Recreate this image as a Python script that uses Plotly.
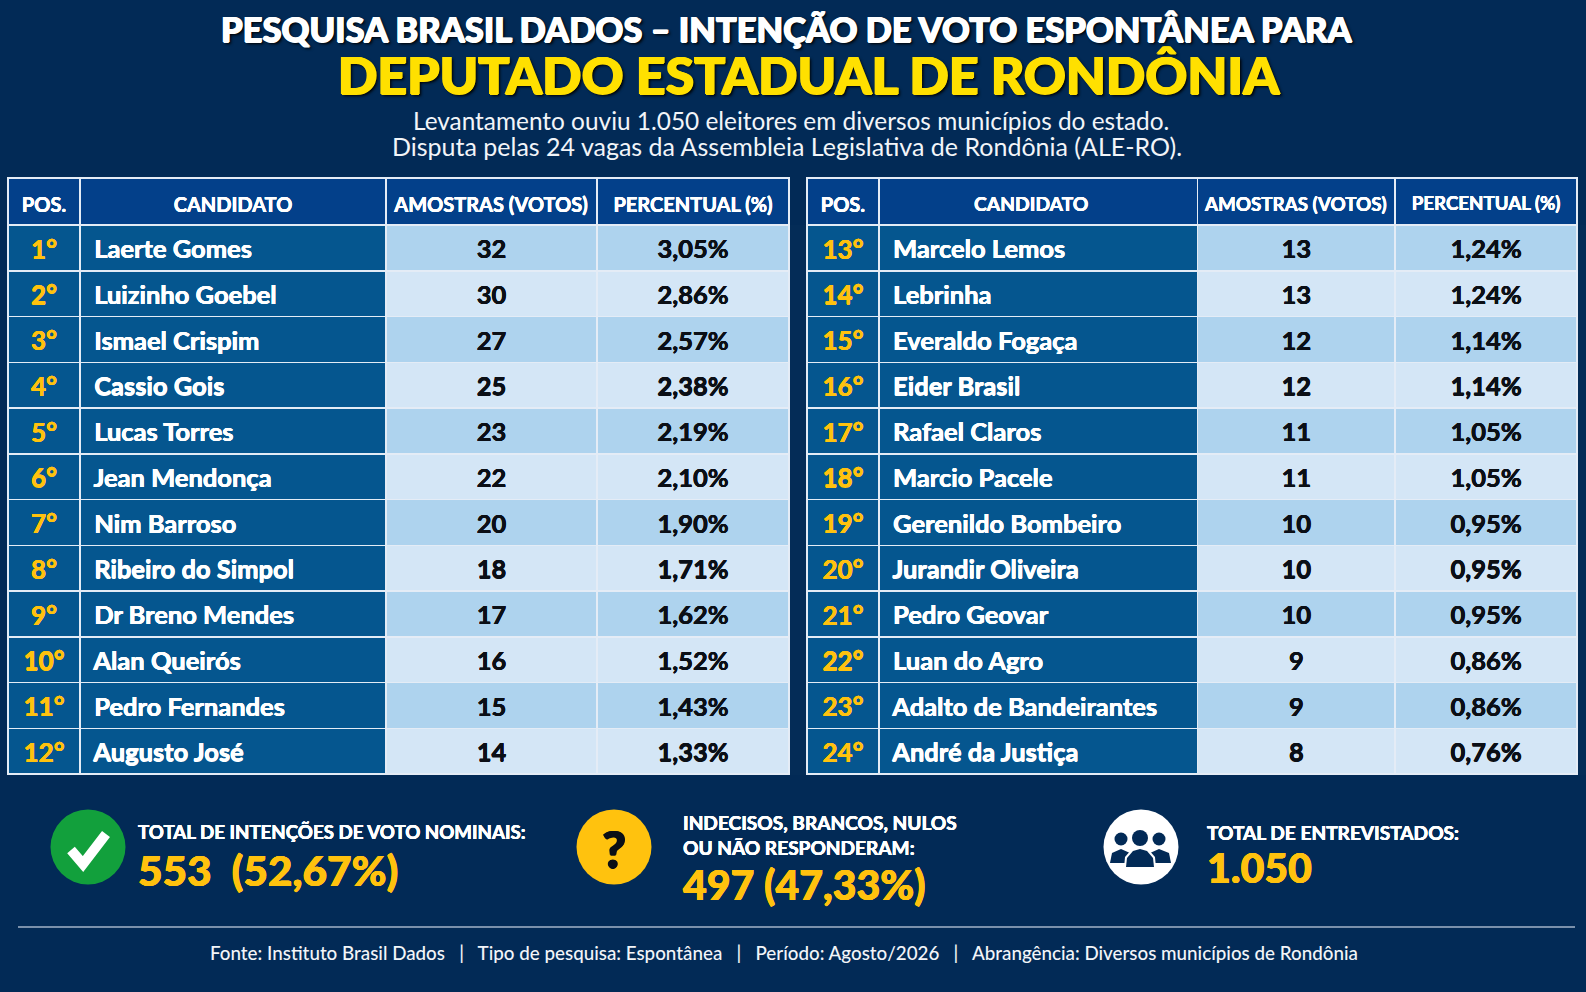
import plotly.graph_objects as go

W, H = 1586, 992

header_left = ["POS.", "CANDIDATO", "AMOSTRAS (VOTOS)", "PERCENTUAL (%)"]
header_right = ["POS.", "CANDIDATO\u00a0\u00a0\u00a0", "AMOSTRAS (VOTOS)", "PERCENTUAL (%)"]

pos_left = ["1°", "2°", "3°", "4°", "5°", "6°", "7°", "8°", "9°", "10°", "11°", "12°"]
names_left = ["Laerte Gomes", "Luizinho Goebel", "Ismael Crispim", "Cassio Gois", "Lucas Torres", "Jean Mendonça",
              "Nim Barroso", "Ribeiro do Simpol", "Dr Breno Mendes", "Alan Queirós", "Pedro Fernandes", "Augusto José"]
votes_left = [32, 30, 27, 25, 23, 22, 20, 18, 17, 16, 15, 14]
pct_left = ["3,05%", "2,86%", "2,57%", "2,38%", "2,19%", "2,10%", "1,90%", "1,71%", "1,62%", "1,52%", "1,43%", "1,33%"]

pos_right = ["13°", "14°", "15°", "16°", "17°", "18°", "19°", "20°", "21°", "22°", "23°", "24°"]
names_right = ["Marcelo Lemos", "Lebrinha", "Everaldo Fogaça", "Eider Brasil", "Rafael Claros", "Marcio Pacele",
               "Gerenildo Bombeiro", "Jurandir Oliveira", "Pedro Geovar", "Luan do Agro", "Adalto de Bandeirantes", "André da Justiça"]
votes_right = [13, 13, 12, 12, 11, 11, 10, 10, 10, 9, 9, 8]
pct_right = ["1,24%", "1,24%", "1,14%", "1,14%", "1,05%", "1,05%", "0,95%", "0,95%", "0,95%", "0,86%", "0,86%", "0,76%"]

NAVY = "#022a56"
HEAD = "#03408a"
DARK = "#05568f"
LIGHT1 = "#aed3ee"
LIGHT2 = "#d4e6f6"
YELLOW = "#ffc20e"
INK = "#0b0f16"
FONT = "Lato"


def fx(x):
    return x / W


def fy(y):
    return 1 - y / H


def heavy(color, w=0.5, extra=""):
    # fake a heavier weight than the installed font has
    s = f"{w}px 0 0 {color}, -{w}px 0 0 {color}, 0 {w}px 0 {color}"
    return s + extra


def head_cell(value, size):
    # the <br> makes the table parse the span instead of wrapping the string
    return f'<span style="font-size:{size}px">{value}</span><br>'


def make_table(header, head_sizes, pos, names, votes, pct, edges):
    light = [LIGHT1 if i % 2 == 0 else LIGHT2 for i in range(len(pos))]
    dark = [DARK] * len(pos)
    widths = [edges[i + 1] - edges[i] for i in range(4)]
    return go.Table(
        domain=dict(x=[fx(edges[0]), fx(edges[-1])], y=[fy(775), fy(178)]),
        columnwidth=widths,
        header=dict(
            values=[head_cell(h, s) for h, s in zip(header, head_sizes)],
            height=47,
            fill_color=HEAD,
            line=dict(color="#e4ecf6", width=1.5),
            align="center",
            font=dict(family=FONT, size=25, color="white", weight="bold", shadow=heavy("#ffffff", 0.2)),
        ),
        cells=dict(
            values=[pos, ["\u00a0" + n for n in names], votes, pct],
            height=45.75,
            fill_color=[dark, dark, light, light],
            line=dict(color="#e4ecf6", width=1.5),
            align=["center", "left", "center", "center"],
            font=dict(
                family=FONT,
                size=[26, 25.5, 25.5, 25.5],
                color=[YELLOW, "white", INK, INK],
                weight="bold",
                shadow=[heavy(YELLOW, 0.3), heavy("#ffffff", 0.3), heavy(INK, 0.3), heavy(INK, 0.3)],
            ),
        ),
    )


fig = go.Figure()
fig.add_trace(make_table(header_left, [20, 20, 20, 20], pos_left, names_left, votes_left, pct_left,
                         [8, 80, 386, 597, 789]))
fig.add_trace(make_table(header_right, [20, 19.3, 18.8, 18.7], pos_right, names_right, votes_right, pct_right,
                         [807, 879, 1198, 1396, 1578]))


def txt(x, y, text, size, color="white", anchor="left", weight="bold", shadow="none"):
    fig.add_annotation(
        x=fx(x), y=fy(y), xref="paper", yref="paper", text=text, showarrow=False,
        xanchor=anchor, yanchor="middle", align=anchor,
        font=dict(family=FONT, size=size, color=color, weight=weight, shadow=shadow),
    )


def circle(cx, cy, r, color):
    fig.add_shape(type="circle", xref="paper", yref="paper",
                  x0=fx(cx - r), x1=fx(cx + r), y0=fy(cy + r), y1=fy(cy - r),
                  fillcolor=color, line_width=0)


def poly(points, color):
    d = "M " + " L ".join(f"{fx(x)},{fy(y)}" for x, y in points) + " Z"
    fig.add_shape(type="path", xref="paper", yref="paper", path=d, fillcolor=color, line_width=0)


# titles
txt(786, 29, "PESQUISA BRASIL DADOS – INTENÇÃO DE VOTO ESPONTÂNEA PARA", 34.5, anchor="center",
    weight=900, shadow=heavy("#ffffff", 0.7, ", 2px 2px 3px #000"))
txt(809, 74, "DEPUTADO ESTADUAL DE RONDÔNIA", 51.8, color="#ffe000", anchor="center",
    weight=900, shadow=heavy("#ffe000", 0.9, ", 2px 2px 3px #000"))
txt(791, 120, "Levantamento ouviu 1.050 eleitores em diversos municípios do estado.", 24.4,
    color="#f2f5f9", anchor="center", weight="normal")
txt(787, 146, "Disputa pelas 24 vagas da Assembleia Legislativa de Rondônia (ALE-RO).", 25,
    color="#f2f5f9", anchor="center", weight="normal")

# summary block
circle(88, 847, 37.5, "#12a03c")
fig.add_shape(type="path", xref="paper", yref="paper",
              path=f"M {fx(71)},{fy(850)} L {fx(83)},{fy(864)} L {fx(106)},{fy(834)}",
              line=dict(color="white", width=10))
txt(136, 832, "TOTAL DE INTENÇÕES DE VOTO NOMINAIS:", 18.7, shadow=heavy("#ffffff", 0.25))
txt(136, 869, "553\u00a0 (52,67%)", 42.3, color=YELLOW, weight=900, shadow=heavy(YELLOW, 0.4))

circle(614, 847, 37.5, YELLOW)
txt(614, 848, "?", 52, color=INK, anchor="center", weight=900, shadow=heavy(INK, 0.8))
txt(681, 822, "INDECISOS, BRANCOS, NULOS", 19.1, shadow=heavy("#ffffff", 0.25))
txt(681, 847, "OU NÃO RESPONDERAM:", 19.1, shadow=heavy("#ffffff", 0.25))
txt(681, 884, "497 (47,33%)", 41, color=YELLOW, weight=900, shadow=heavy(YELLOW, 0.4))

circle(1141, 847, 37.5, "white")
for cx, r in [(1121, 6.5), (1159, 6.5), (1140, 8)]:
    circle(cx, 838 if r > 7 else 839, r, NAVY)
for pts in [
    [(1110, 863), (1112, 853), (1121, 849), (1130, 853), (1130, 863)],
    [(1150, 863), (1150, 853), (1159, 849), (1169, 853), (1171, 863)],
]:
    poly(pts, NAVY)
poly([(1124, 868), (1125, 857), (1132, 849), (1140, 847), (1148, 849), (1155, 857), (1156, 868)], "white")
poly([(1126, 867), (1127, 858), (1133, 851), (1140, 849), (1147, 851), (1153, 858), (1154, 867)], NAVY)
txt(1205, 832, "TOTAL DE ENTREVISTADOS:", 19.1, shadow=heavy("#ffffff", 0.25))
txt(1205, 867, "1.050", 41, color=YELLOW, weight=900, shadow=heavy(YELLOW, 0.4))

# footer
fig.add_shape(type="line", xref="paper", yref="paper", x0=fx(18), x1=fx(1575), y0=fy(927), y1=fy(927),
              line=dict(color="#a3b3c8", width=1.5))
txt(784, 952, "Fonte: Instituto Brasil Dados\u00a0\u00a0 | \u00a0\u00a0Tipo de pesquisa: Espontânea\u00a0\u00a0 | \u00a0\u00a0"
    "Período: Agosto/2026\u00a0\u00a0 | \u00a0\u00a0Abrangência: Diversos municípios de Rondônia",
    18.8, color="#f2f5f9", anchor="center", weight=500)

fig.update_layout(
    width=W, height=H,
    margin=dict(l=0, r=0, t=0, b=0),
    paper_bgcolor=NAVY,
    plot_bgcolor=NAVY,
    showlegend=False,
)

# table text sits at the top of its cell and has no valign option, so nudge it down
nudge = ("document.body.style.margin='0';"
         "var s=document.createElement('style');"
         "s.textContent='.cell-text{transform:translateY(6px)}';"
         "document.head.appendChild(s);")
fig.write_html("out.html", config=dict(displayModeBar=False), post_script=nudge)
